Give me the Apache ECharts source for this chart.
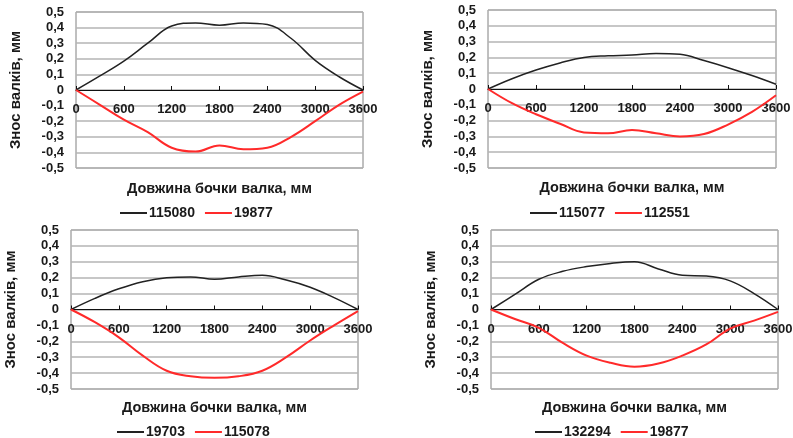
<!DOCTYPE html>
<html>
<head>
<meta charset="utf-8">
<script src="https://cdn.jsdelivr.net/npm/echarts@6/dist/echarts.min.js"></script>
<style>
  html, body { margin: 0; padding: 0; background: #fff; }
  #main { width: 793px; height: 438px; }
</style>
</head>
<body>
<div id="main"></div>
<script>
// позиції по довжині бочки, мм
var positions = [0, 300, 600, 900, 1200, 1500, 1800, 2100, 2400, 2700, 3000, 3300, 3600];

// графік 1
var p1Names = ['115080', '19877'];
var p1Upper = [0, 0.09, 0.185, 0.30, 0.41, 0.43, 0.415, 0.43, 0.42, 0.33, 0.19, 0.085, 0];
var p1Lower = [0, -0.095, -0.19, -0.27, -0.37, -0.395, -0.355, -0.38, -0.37, -0.30, -0.20, -0.095, -0.01];

// графік 2
var p2Names = ['115077', '112551'];
var p2Upper = [0, 0.065, 0.12, 0.165, 0.20, 0.21, 0.215, 0.225, 0.22, 0.18, 0.135, 0.085, 0.03];
var p2Lower = [0, -0.09, -0.16, -0.22, -0.275, -0.28, -0.26, -0.28, -0.30, -0.285, -0.225, -0.145, -0.04];

// графік 3
var p3Names = ['19703', '115078'];
var p3Upper = [0, 0.07, 0.13, 0.175, 0.20, 0.205, 0.19, 0.205, 0.215, 0.185, 0.14, 0.075, 0];
var p3Lower = [0, -0.08, -0.175, -0.29, -0.385, -0.42, -0.43, -0.42, -0.385, -0.30, -0.195, -0.10, -0.01];

// графік 4
var p4Names = ['132294', '19877'];
var p4Upper = [0, 0.095, 0.19, 0.24, 0.27, 0.29, 0.30, 0.255, 0.215, 0.21, 0.18, 0.10, 0];
var p4Lower = [0, -0.06, -0.115, -0.21, -0.29, -0.335, -0.36, -0.34, -0.29, -0.22, -0.12, -0.07, -0.015];

var xTitle = 'Довжина бочки валка, мм';
var yTitle = 'Знос валків, мм';

(function(){
    var dom = document.getElementById('main');
    var myChart = echarts.init(dom, null, {renderer: 'canvas'});
    var font = "'Liberation Sans', Arial, sans-serif";
    var txt = '#1a1a1a';

    var panels = [
        {names: p1Names, up: p1Upper, low: p1Lower, grid: {left: 76, top: 12, width: 287, height: 156}, legend: {left: 115, top: 201}},
        {names: p2Names, up: p2Upper, low: p2Lower, grid: {left: 488, top: 10, width: 288, height: 158}, legend: {left: 525, top: 201}},
        {names: p3Names, up: p3Upper, low: p3Lower, grid: {left: 71, top: 230, width: 287, height: 159}, legend: {left: 112, top: 420}},
        {names: p4Names, up: p4Upper, low: p4Lower, grid: {left: 491, top: 230, width: 287, height: 159}, legend: {left: 530, top: 420}}
    ];

    function pairs(vals) {
        return positions.map(function (x, i) { return [x, vals[i]]; });
    }

    function fmtY(v) {
        var r = Math.round(v * 10) / 10;
        if (r === 0) return '0';
        return String(r).replace('.', ',');
    }

    var option = {
        backgroundColor: '#fff',
        animation: false,
        grid: [], xAxis: [], yAxis: [], legend: [], series: []
    };

    panels.forEach(function (p, i) {
        option.grid.push({
            left: p.grid.left, top: p.grid.top, width: p.grid.width, height: p.grid.height,
            show: true, borderColor: '#808080', borderWidth: 1, backgroundColor: 'transparent',
            containLabel: false, outerBoundsMode: 'none'
        });
        // вісь x лежить на нулі: зсув на половину висоти сітки
        option.xAxis.push({
            type: 'value', gridIndex: i, min: 0, max: 3600, interval: 600,
            position: 'bottom', offset: -p.grid.height / 2,
            axisLine: {onZero: false, lineStyle: {color: '#111', width: 1}},
            axisTick: {show: true, inside: true, length: 4, lineStyle: {color: '#111'}},
            axisLabel: {margin: 13, color: txt, fontSize: 13, fontWeight: 'bold', fontFamily: font,
                        showMinLabel: true, showMaxLabel: true, hideOverlap: false,
                        formatter: function (v) { return String(v); }},
            splitLine: {show: false},
            name: xTitle, nameLocation: 'middle', nameGap: 91, nameMoveOverlap: false,
            nameTextStyle: {color: txt, fontSize: 14.5, fontWeight: 'bold', fontFamily: font}
        });
        option.yAxis.push({
            type: 'value', gridIndex: i, min: -0.5, max: 0.5, interval: 0.1,
            axisLine: {show: false},
            axisTick: {show: false},
            axisLabel: {margin: 12, color: txt, fontSize: 13, fontWeight: 'bold', fontFamily: font, formatter: fmtY},
            splitLine: {show: true, lineStyle: {color: '#b4b4b4', width: 1.5}},
            name: yTitle, nameLocation: 'middle', nameGap: 53, nameMoveOverlap: false,
            nameTextStyle: {color: txt, fontSize: 15, fontWeight: 'bold', fontFamily: font}
        });
        option.legend.push({
            data: p.names, left: p.legend.left, top: p.legend.top,
            icon: 'rect', itemWidth: 27, itemHeight: 2, itemGap: 10,
            textStyle: {color: txt, fontSize: 14, fontWeight: 'bold', fontFamily: font, padding: [0, 0, 0, -3]}
        });
        option.series.push({
            name: p.names[0], type: 'line', xAxisIndex: i, yAxisIndex: i,
            data: pairs(p.up), smooth: 0.4, symbol: 'none',
            lineStyle: {color: '#222', width: 1.5}, itemStyle: {color: '#222'}
        });
        option.series.push({
            name: p.names[1], type: 'line', xAxisIndex: i, yAxisIndex: i,
            data: pairs(p.low), smooth: 0.4, symbol: 'none',
            lineStyle: {color: '#ff2a2a', width: 2}, itemStyle: {color: '#ff2a2a'}
        });
    });

    if (option && typeof option === 'object') {
        myChart.setOption(option, true);
    }
})();
</script>
</body>
</html>
